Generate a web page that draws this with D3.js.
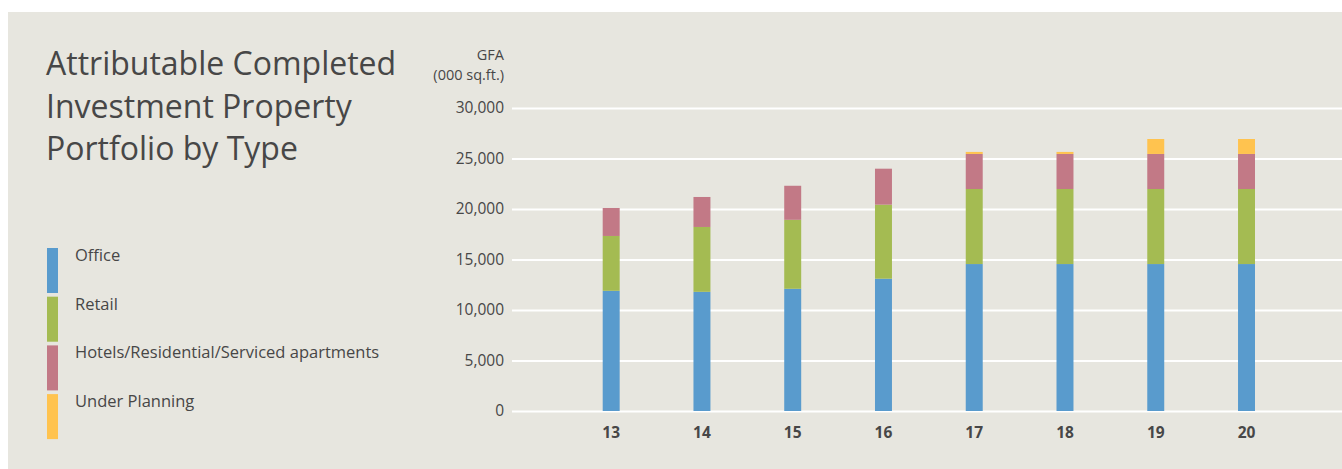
<!DOCTYPE html>
<html>
<head>
<meta charset="utf-8">
<script src="https://cdn.jsdelivr.net/npm/d3@7"></script>
<style>
  html, body { margin: 0; padding: 0; background: #ffffff; }
  svg { display: block; }
  text { font-family: "Open Sans", sans-serif; fill: #474747; }
</style>
</head>
<body>
<svg id="chart" width="1342" height="469"></svg>
<script>
// ---- Data ----
const years = ["13", "14", "15", "16", "17", "18", "19", "20"];
const office = [11900, 11800, 12100, 13100, 14550, 14550, 14550, 14550];
const retail = [5430, 6420, 6830, 7330, 7430, 7430, 7430, 7430];
const hotels = [2770, 2970, 3370, 3560, 3470, 3470, 3470, 3470];
const planning = [0, 0, 0, 0, 200, 200, 1480, 1480];
const seriesNames = ["Office", "Retail", "Hotels/Residential/Serviced apartments", "Under Planning"];
const seriesKeys = ["office", "retail", "hotels", "planning"];
const seriesColors = ["#599bcd", "#a4bb52", "#c27986", "#ffc34f"];
const yTicks = [0, 5000, 10000, 15000, 20000, 25000, 30000];
const titleLines = ["Attributable Completed", "Investment Property", "Portfolio by Type"];
const yAxisTitle = ["GFA", "(000 sq.ft.)"];

const table = years.map((y, i) => ({
  year: y, office: office[i], retail: retail[i], hotels: hotels[i], planning: planning[i]
}));

const svg = d3.select("#chart");

// background panel
svg.append("rect").attr("x", 8).attr("y", 12).attr("width", 1334).attr("height", 457).attr("fill", "#e7e6df");

// scales
const y = d3.scaleLinear().domain([0, 30000]).range([411, 108]);
const x = d3.scaleBand().domain(years).range([602.7, 1255]).paddingInner(0.813).paddingOuter(0);

// gridlines
const yAxis = d3.axisLeft(y).tickValues(yTicks).tickSize(-(1342 - 512)).tickPadding(8)
  .tickFormat(d3.format(","));
const gy = svg.append("g").attr("transform", "translate(512,0)").call(yAxis);
gy.select(".domain").remove();
gy.selectAll(".tick line").attr("stroke", "#ffffff").attr("stroke-width", 2);
gy.selectAll(".tick text").attr("font-size", 15.5).attr("fill", "#474747")
  .style("font-family", "'Open Sans', sans-serif");

// stacked bars
const stack = d3.stack().keys(seriesKeys);
const stacked = stack(table);
const color = d3.scaleOrdinal().domain(seriesKeys).range(seriesColors);

svg.append("g").selectAll("g").data(stacked).join("g")
  .attr("fill", d => color(d.key))
  .selectAll("rect").data(d => d).join("rect")
  .attr("x", d => x(d.data.year))
  .attr("width", x.bandwidth())
  .attr("y", d => y(d[1]))
  .attr("height", d => Math.max(0, y(d[0]) - y(d[1])));

// x axis
const xAxis = d3.axisBottom(x).tickSize(0).tickPadding(16);
const gx = svg.append("g").attr("transform", "translate(0,411)").call(xAxis);
gx.select(".domain").remove();
gx.selectAll(".tick text").attr("font-size", 15.5).attr("font-weight", "bold").attr("fill", "#474747")
  .style("font-family", "'Open Sans', sans-serif");

// y axis title
svg.append("g").selectAll("text").data(yAxisTitle).join("text")
  .attr("x", 504).attr("y", (d, i) => 60 + i * 20)
  .attr("text-anchor", "end").attr("font-size", 14.5).text(d => d);

// title
svg.append("g").selectAll("text").data(titleLines).join("text")
  .attr("x", 46).attr("y", (d, i) => 75 + i * 42.5)
  .attr("font-size", 32).attr("fill", "#454545").text(d => d);

// legend
const lg = svg.append("g");
seriesNames.forEach((name, i) => {
  lg.append("rect").attr("x", 47).attr("y", 248 + i * 48.7).attr("width", 11).attr("height", 45)
    .attr("fill", seriesColors[i]);
  lg.append("text").attr("x", 75).attr("y", 261 + i * 48.7).attr("font-size", 16.5).text(name);
});
</script>
</body>
</html>
